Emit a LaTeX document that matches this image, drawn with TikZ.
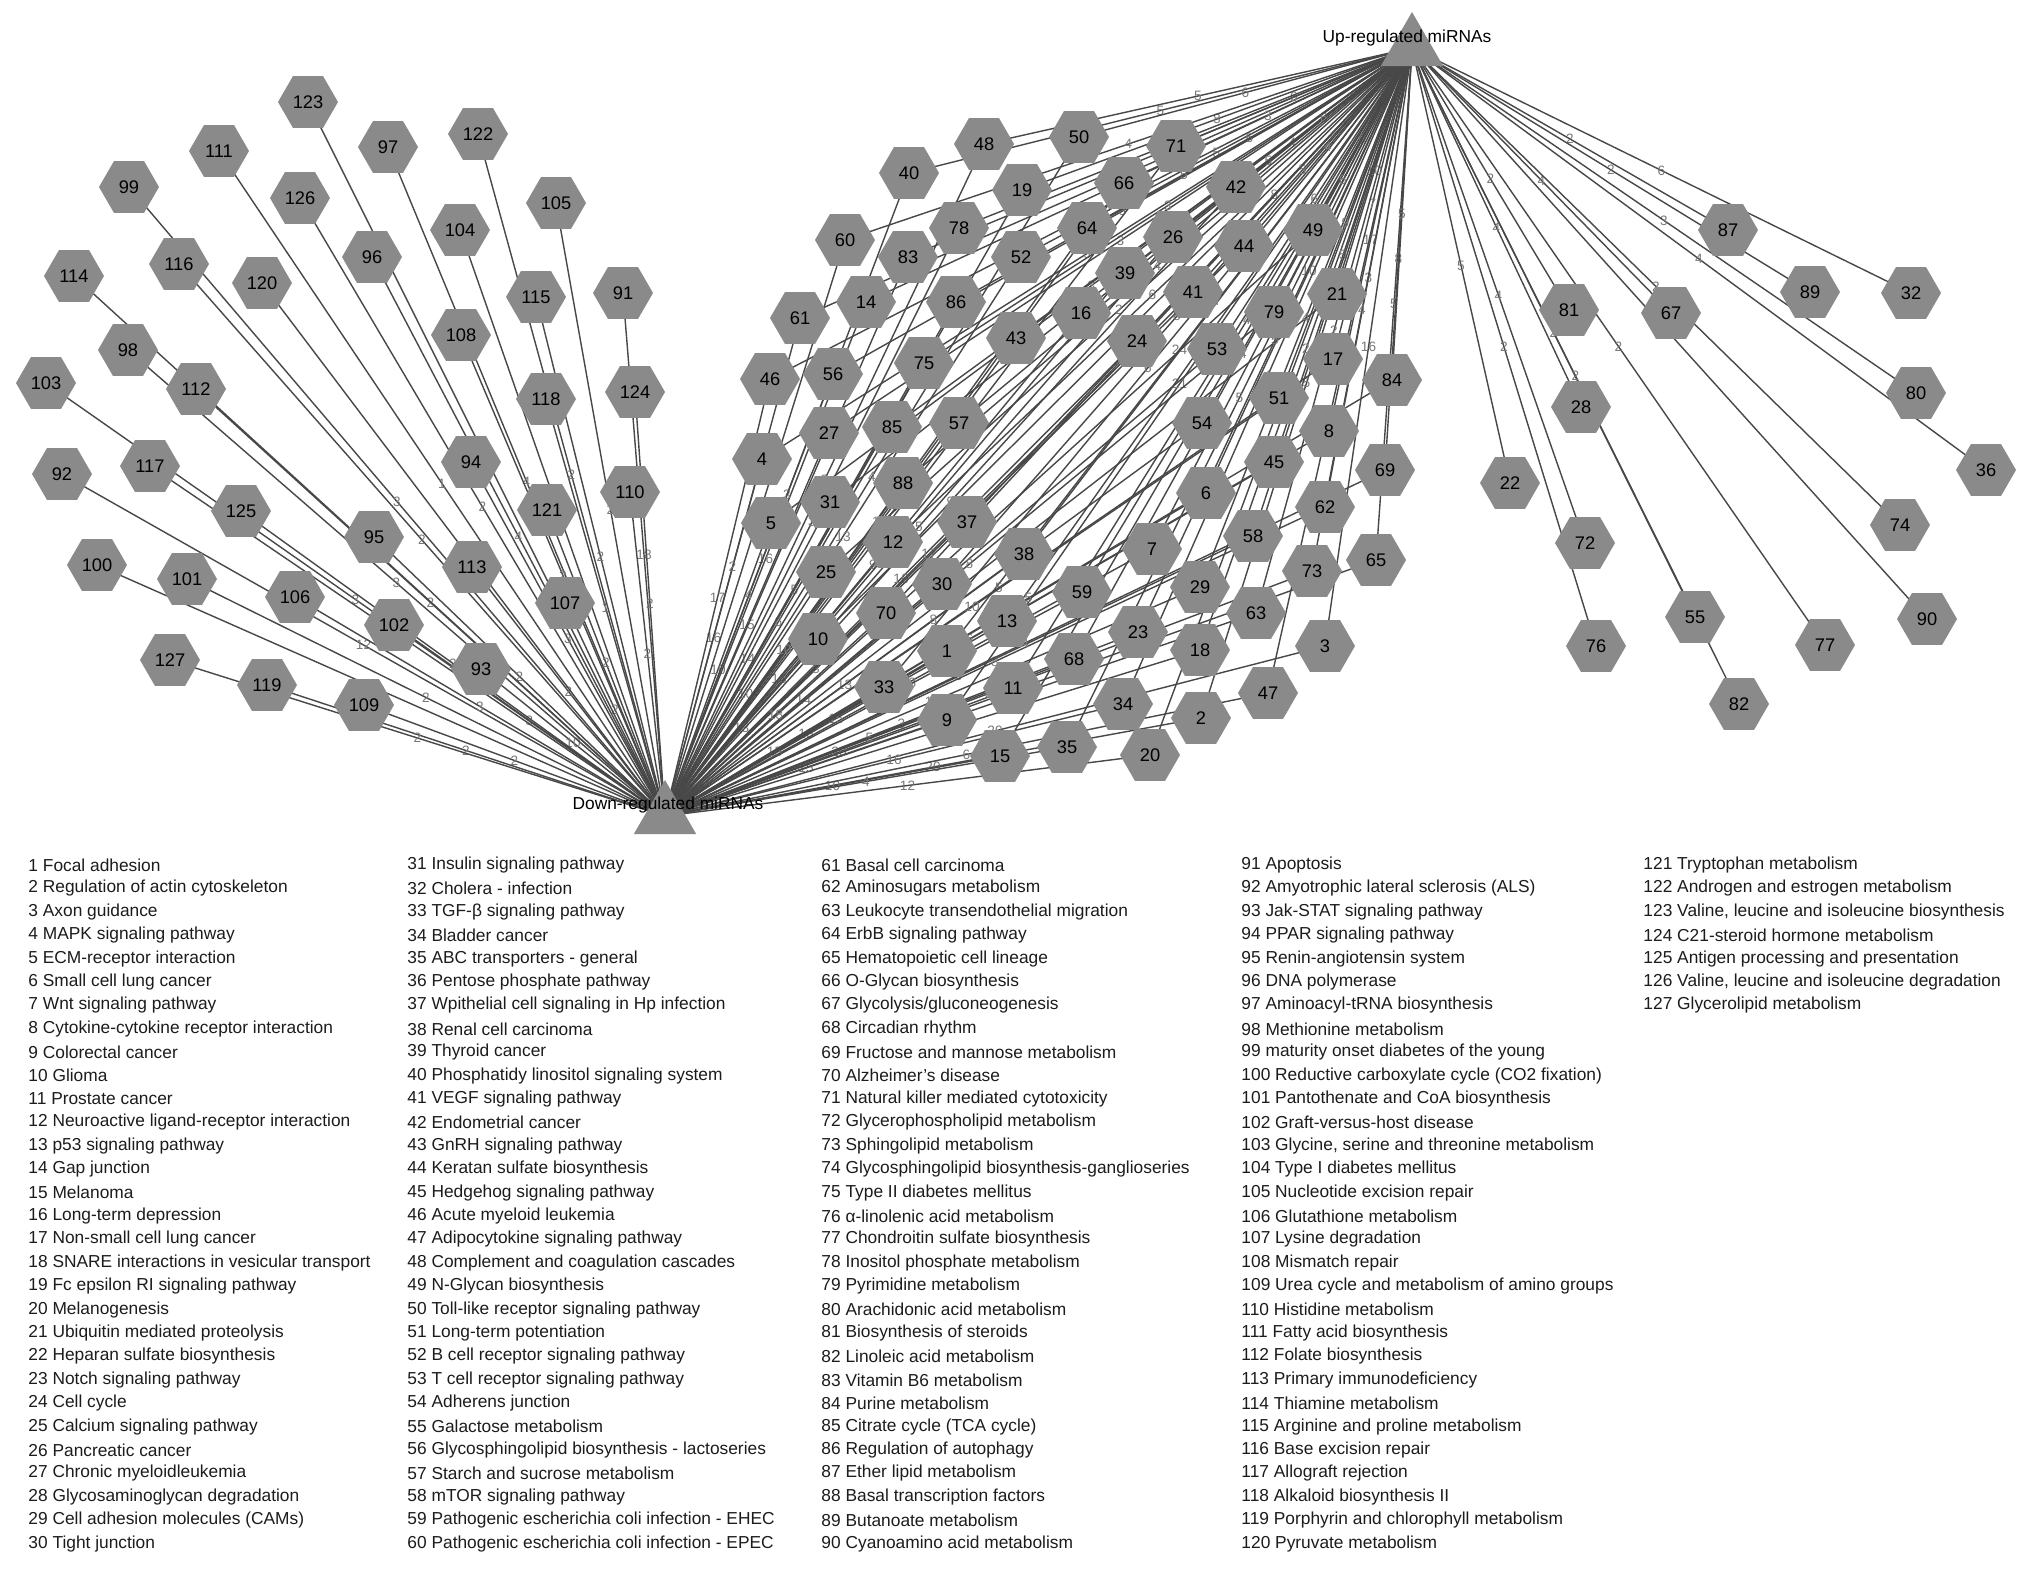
\documentclass[tikz,border=0pt]{standalone}
\usepackage{fontspec}
\setmainfont{Liberation Sans}
\usetikzlibrary{shapes.geometric,backgrounds}
\definecolor{hexfill}{RGB}{138,138,138}
\definecolor{conncol}{RGB}{72,72,72}
\definecolor{labcol}{RGB}{120,120,120}
\definecolor{legtext}{RGB}{28,28,28}
\def\bothlist{1/947/651/24/16, 2/1201/718/5/20, 3/1325/646/16/20, 4/762/459/6/16, 5/771/523/3/10, 6/1206/493/10/9, 7/1152/549/6/13, 8/1329/431/17/5, 9/947/720/21/15, 10/818/639/5/13, 11/1013/688/9/20, 12/893/542/6/16, 13/1007/621/8/15, 14/866/302/4/16, 15/1000/756/8/10, 16/1081/313/4/9, 17/1333/359/7/5, 18/1200/650/2/4, 19/1022/190/8/3, 20/1150/755/4/12, 21/1337/294/10/1, 23/1138/632/5/3, 24/1137/341/8/16, 25/826/572/2/10, 26/1173/237/4/5, 27/829/433/3/15, 29/1200/587/4/10, 30/942/584/8/14, 31/830/502/5/14, 33/884/687/6/15, 34/1123/704/4/16, 35/1067/747/5/4, 37/967/522/6/8, 38/1024/554/7/13, 39/1125/273/5/12, 40/909/173/5/3, 41/1193/292/5/17, 42/1236/187/6/9, 43/1016/338/4/5, 44/1244/246/4/6, 45/1274/462/5/6, 46/770/379/2/17, 47/1268/693/3/6, 48/984/144/5/3, 49/1313/230/6/6, 50/1079/137/6/4, 51/1279/398/9/10, 52/1021/257/5/13, 53/1217/349/6/8, 54/1202/423/5/8, 56/833/374/3/4, 57/959/423/4/6, 58/1253/536/5/9, 59/1082/592/4/12, 60/845/240/4/3, 61/800/318/3/2, 62/1325/507/3/8, 63/1256/613/2/4, 64/1087/228/6/1, 65/1376/560/5/4, 66/1124/183/3/5, 68/1074/659/4/5, 69/1385/470/8/4, 70/886/613/6/18, 71/1176/146/6/4, 73/1312/571/4/6, 75/924/363/3/5, 78/959/228/5/3, 79/1274/312/6/8, 83/908/257/5/3, 84/1392/380/5/5, 85/892/427/4/6, 86/956/302/5/4, 88/903/483/4/10}
\def\uplist{22/1510/483/5, 28/1581/407/4, 32/1911/293/6, 36/1986/470/4, 55/1695/617/2, 67/1671/313/4, 72/1585/543/4, 74/1900/525/2, 76/1596/646/2, 77/1825/645/2, 80/1916/393/3, 81/1569/310/2, 82/1739/704/2, 87/1728/230/2, 89/1810/292/2, 90/1927/619/2}
\def\downlist{91/623/293/18, 92/62/474/12, 93/481/669/10, 94/471/462/3, 95/374/537/2, 96/372/257/4, 97/388/147/4, 98/128/350/3, 99/129/187/3, 100/97/565/2, 101/187/579/2, 102/394/625/3, 103/46/383/3, 104/460/230/2, 105/556/203/2, 106/295/597/3, 107/565/603/2, 108/461/335/2, 109/364/705/2, 110/630/492/2, 111/219/151/1, 112/196/389/2, 113/472/567/2, 114/74/276/2, 115/536/297/2, 116/179/264/2, 117/150/466/2, 118/546/399/1, 119/267/685/2, 120/262/283/2, 121/547/510/2, 122/478/134/2, 123/308/102/2, 124/635/392/2, 125/241/511/2, 126/300/198/2, 127/170/660/2}
\begin{document}
\begin{tikzpicture}[x=0.015cm,y=-0.015cm,
  hexa/.style={regular polygon, regular polygon sides=6, minimum size=0.9cm, inner sep=0pt, fill=hexfill, text=black, font=\fontsize{7.8}{8}\selectfont},
  tri/.style={regular polygon, regular polygon sides=3, minimum size=1.08cm, inner sep=0pt, fill=hexfill},
  conn/.style={draw=conncol, line width=0.6pt},
  elab/.style={font=\fontsize{5.8}{6}\selectfont, text=labcol, inner sep=0pt},
  leg/.style={anchor=west, inner sep=0pt, text=legtext, font=\fontsize{7.4}{8}\selectfont},
  tlab/.style={inner sep=0pt, text=black, font=\fontsize{7.4}{8}\selectfont}]
\useasboundingbox (0,0) rectangle (2032,1568);
\begin{pgfonlayer}{background}
  \fill[white] (0,0) rectangle (2032,1568);
\end{pgfonlayer}
% hubs
\node[tri] (U) at (1412,48) {};
\node[tri] (D) at (665,816) {};
% pathways linked to both hubs
\foreach \n/\x/\y/\a/\b in \bothlist {
  \node[hexa] (n\n) at (\x,\y) {\n};
  \begin{pgfonlayer}{background}
    \draw[conn] (U.center) -- node[elab] {\a} (n\n.center);
    \draw[conn] (D.center) -- node[elab] {\b} (n\n.center);
  \end{pgfonlayer}
}
% pathways linked to up-regulated miRNAs only
\foreach \n/\x/\y/\a in \uplist {
  \node[hexa] (n\n) at (\x,\y) {\n};
  \begin{pgfonlayer}{background}
    \draw[conn] (U.center) -- node[elab] {\a} (n\n.center);
  \end{pgfonlayer}
}
% pathways linked to down-regulated miRNAs only
\foreach \n/\x/\y/\b in \downlist {
  \node[hexa] (n\n) at (\x,\y) {\n};
  \begin{pgfonlayer}{background}
    \draw[conn] (D.center) -- node[elab] {\b} (n\n.center);
  \end{pgfonlayer}
}
\node[tlab] (UL) at (1407,38) {Up-regulated miRNAs};
\node[tlab] (DL) at (668,805) {Down-regulated miRNAs};
% legend
\foreach \t [count=\k from 1] in {Focal adhesion, Regulation of actin cytoskeleton, Axon guidance, MAPK signaling pathway, ECM-receptor interaction, Small cell lung cancer, Wnt signaling pathway, Cytokine-cytokine receptor interaction, Colorectal cancer, Glioma, Prostate cancer, Neuroactive ligand-receptor interaction, p53 signaling pathway, Gap junction, Melanoma, Long-term depression, Non-small cell lung cancer, SNARE interactions in vesicular transport, Fc epsilon RI signaling pathway, Melanogenesis, Ubiquitin mediated proteolysis, Heparan sulfate biosynthesis, Notch signaling pathway, Cell cycle, Calcium signaling pathway, Pancreatic cancer, Chronic myeloidleukemia, Glycosaminoglycan degradation, Cell adhesion molecules (CAMs), Tight junction} {
  \pgfmathsetmacro\yy{865+(\k-1)*23.4}
  \node[leg] (L\k) at (28,\yy) {\k\ \t};
}
\foreach \t [count=\k from 31] in {Insulin signaling pathway, Cholera - infection, TGF-β signaling pathway, Bladder cancer, ABC transporters - general, Pentose phosphate pathway, Wpithelial cell signaling in Hp infection, Renal cell carcinoma, Thyroid cancer, Phosphatidy linositol signaling system, VEGF signaling pathway, Endometrial cancer, GnRH signaling pathway, Keratan sulfate biosynthesis, Hedgehog signaling pathway, Acute myeloid leukemia, Adipocytokine signaling pathway, Complement and coagulation cascades, N-Glycan biosynthesis, Toll-like receptor signaling pathway, Long-term potentiation, B cell receptor signaling pathway, T cell receptor signaling pathway, Adherens junction, Galactose metabolism, Glycosphingolipid biosynthesis - lactoseries, Starch and sucrose metabolism, mTOR signaling pathway, Pathogenic escherichia coli infection - EHEC, Pathogenic escherichia coli infection - EPEC} {
  \pgfmathsetmacro\yy{865+(\k-31)*23.4}
  \node[leg] (L\k) at (407,\yy) {\k\ \t};
}
\foreach \t [count=\k from 61] in {Basal cell carcinoma, Aminosugars metabolism, Leukocyte transendothelial migration, ErbB signaling pathway, Hematopoietic cell lineage, O-Glycan biosynthesis, Glycolysis/gluconeogenesis, Circadian rhythm, Fructose and mannose metabolism, Alzheimer’s disease, Natural killer mediated cytotoxicity, Glycerophospholipid metabolism, Sphingolipid metabolism, Glycosphingolipid biosynthesis-ganglioseries, Type II diabetes mellitus, α-linolenic acid metabolism, Chondroitin sulfate biosynthesis, Inositol phosphate metabolism, Pyrimidine metabolism, Arachidonic acid metabolism, Biosynthesis of steroids, Linoleic acid metabolism, Vitamin B6 metabolism, Purine metabolism, Citrate cycle (TCA cycle), Regulation of autophagy, Ether lipid metabolism, Basal transcription factors, Butanoate metabolism, Cyanoamino acid metabolism} {
  \pgfmathsetmacro\yy{865+(\k-61)*23.4}
  \node[leg] (L\k) at (821,\yy) {\k\ \t};
}
\foreach \t [count=\k from 91] in {Apoptosis, Amyotrophic lateral sclerosis (ALS), Jak-STAT signaling pathway, PPAR signaling pathway, Renin-angiotensin system, DNA polymerase, Aminoacyl-tRNA biosynthesis, Methionine metabolism, maturity onset diabetes of the young, Reductive carboxylate cycle (CO2 fixation), Pantothenate and CoA biosynthesis, Graft-versus-host disease, {Glycine, serine and threonine metabolism}, Type I diabetes mellitus, Nucleotide excision repair, Glutathione metabolism, Lysine degradation, Mismatch repair, Urea cycle and metabolism of amino groups, Histidine metabolism, Fatty acid biosynthesis, Folate biosynthesis, Primary immunodeficiency, Thiamine metabolism, Arginine and proline metabolism, Base excision repair, Allograft rejection, Alkaloid biosynthesis II, Porphyrin and chlorophyll metabolism, Pyruvate metabolism} {
  \pgfmathsetmacro\yy{865+(\k-91)*23.4}
  \node[leg] (L\k) at (1241,\yy) {\k\ \t};
}
\foreach \t [count=\k from 121] in {Tryptophan metabolism, Androgen and estrogen metabolism, {Valine, leucine and isoleucine biosynthesis}, C21-steroid hormone metabolism, Antigen processing and presentation, {Valine, leucine and isoleucine degradation}, Glycerolipid metabolism} {
  \pgfmathsetmacro\yy{865+(\k-121)*23.4}
  \node[leg] (L\k) at (1643,\yy) {\k\ \t};
}
\end{tikzpicture}
\end{document}
